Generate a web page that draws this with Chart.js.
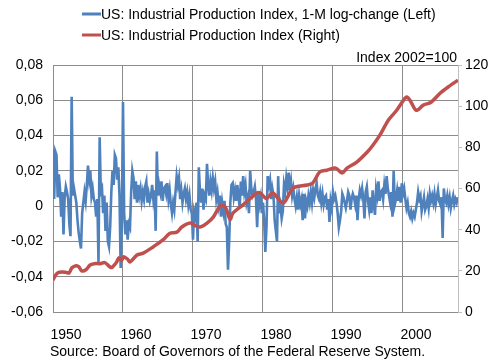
<!DOCTYPE html>
<html>
<head>
<meta charset="utf-8">
<script src="https://cdn.jsdelivr.net/npm/chart.js@4.4.1/dist/chart.umd.min.js"></script>
<style>
  html, body { margin: 0; padding: 0; background: #fff; }
  #wrap { width: 497px; height: 361px; }
</style>
</head>
<body>
<div id="wrap"><canvas id="ipChart" width="497" height="361"></canvas></div>
<script>
// Monthly log-change, sampled every second month (Jan, Mar, May, Jul, Sep, Nov)
const changeStartYear = 1950;
const changeStep = 1 / 6;
const logChange = [
  // 1950
  0.032, 0.004, 0.031, 0.029, 0.005, 0.018,
  // 1951
  0.010, -0.006, 0.008, -0.016, 0.005, 0.011,
  // 1952
  0.008, 0.004, -0.010, -0.017, 0.062, 0.006,
  // 1953
  0.010, 0.006, 0.002, -0.008, -0.015, -0.020,
  // 1954
  -0.024, -0.004, 0.002, 0.008, 0.003, 0.012,
  // 1955
  0.023, 0.015, 0.020, 0.006, 0.010, 0.004,
  // 1956
  0.002, -0.006, 0.004, -0.032, 0.039, 0.008,
  // 1957
  0.010, -0.004, 0.006, -0.014, 0.002, -0.020,
  // 1958
  -0.023, -0.012, 0.008, 0.020, 0.012, 0.029,
  // 1959
  0.027, 0.015, 0.022, 0.006, -0.035, -0.008,
  // 1960
  0.059, -0.004, -0.016, -0.008, -0.019, -0.010,
  // 1961
  -0.012, 0.008, 0.020, 0.016, 0.004, 0.014,
  // 1962
  0.002, 0.012, 0.006, 0.010, 0.003, 0.008,
  // 1963
  0.004, 0.011, 0.014, 0.002, 0.007, 0.003,
  // 1964
  0.006, 0.012, 0.004, 0.009, -0.014, 0.031,
  // 1965
  0.006, 0.012, 0.008, 0.014, 0.003, 0.010,
  // 1966
  0.011, 0.007, 0.013, 0.004, 0.009, 0.001,
  // 1967
  -0.004, 0.002, -0.002, 0.008, 0.017, 0.012,
  // 1968
  0.016, 0.004, 0.009, 0.002, 0.007, 0.010,
  // 1969
  0.004, 0.008, 0.001, 0.006, -0.002, -0.004,
  // 1970
  -0.019, -0.003, -0.006, 0.002, -0.020, 0.022,
  // 1971
  0.008, 0.002, 0.010, -0.002, 0.006, 0.004,
  // 1972
  0.024, 0.012, 0.006, 0.014, 0.009, 0.016,
  // 1973
  0.010, 0.014, 0.004, 0.008, 0.001, 0.006,
  // 1974
  -0.006, 0.002, -0.003, 0.003, -0.010, -0.012,
  // 1975
  -0.036, -0.020, 0.002, 0.012, 0.013, 0.005,
  // 1976
  0.009, 0.003, 0.012, 0.006, -0.001, 0.014,
  // 1977
  0.006, 0.017, 0.008, 0.012, 0.002, 0.005,
  // 1978
  -0.004, 0.020, 0.010, 0.006, 0.008, 0.011,
  // 1979
  0.004, -0.012, 0.008, 0.001, 0.005, -0.004,
  // 1980
  0.002, -0.008, -0.026, -0.012, 0.017, 0.012,
  // 1981
  0.015, 0.004, 0.010, 0.006, -0.008, -0.014,
  // 1982
  -0.020, 0.017, -0.004, 0.000, -0.007, -0.003,
  // 1983
  0.012, 0.008, 0.016, 0.011, 0.019, 0.009,
  // 1984
  0.014, 0.006, 0.010, 0.004, 0.000, 0.005,
  // 1985
  -0.002, 0.006, 0.001, 0.004, -0.008, 0.007,
  // 1986
  -0.007, 0.003, 0.000, 0.006, 0.002, 0.008,
  // 1987
  0.002, 0.009, 0.005, 0.010, 0.013, 0.006,
  // 1988
  0.004, 0.008, 0.002, 0.007, 0.001, 0.005,
  // 1989
  0.006, -0.002, 0.004, -0.009, 0.003, -0.001,
  // 1990
  0.008, 0.004, 0.006, 0.002, -0.004, -0.012,
  // 1991
  -0.008, -0.003, 0.007, 0.005, 0.002, -0.001,
  // 1992
  0.003, 0.008, 0.006, -0.002, 0.004, 0.007,
  // 1993
  0.005, 0.001, 0.006, -0.008, 0.004, 0.009,
  // 1994
  0.006, 0.010, 0.004, -0.007, 0.008, 0.011,
  // 1995
  0.003, -0.002, 0.005, -0.004, 0.009, 0.001,
  // 1996
  -0.005, 0.010, 0.006, 0.014, 0.003, 0.008,
  // 1997
  0.009, 0.004, 0.012, 0.007, 0.017, 0.010,
  // 1998
  0.006, 0.002, 0.008, -0.006, 0.020, 0.001,
  // 1999
  0.004, 0.009, 0.003, 0.011, 0.002, 0.013,
  // 2000
  0.007, 0.010, 0.004, -0.001, 0.002, -0.004,
  // 2001
  -0.006, -0.003, -0.007, -0.004, -0.006, -0.002,
  // 2002
  0.002, 0.008, 0.004, 0.006, -0.003, 0.001,
  // 2003
  0.005, -0.002, 0.000, 0.004, -0.001, 0.007,
  // 2004
  0.003, 0.006, 0.002, 0.007, 0.001, 0.005,
  // 2005
  0.009, 0.003, 0.001, 0.005, -0.018, 0.010,
  // 2006
  0.004, 0.002, 0.006, 0.001, 0.005, -0.001,
  // 2007
  0.003, 0.006, 0.001, 0.004, 0.002, 0.005
];

// Index level (2002=100), at irregular dates
const indexYears = [
  1950.0, 1950.3, 1950.7, 1951.3, 1951.9, 1952.3, 1952.7, 1953.3, 1953.7, 1954.1,
  1954.7, 1955.3, 1956.1, 1956.7, 1957.4, 1958.1, 1958.4, 1959.1, 1959.4, 1959.8,
  1960.1, 1960.7, 1961.0, 1962.0, 1962.9, 1964.3, 1965.7, 1966.7, 1967.7, 1968.4,
  1969.6, 1970.3, 1971.0, 1972.0, 1972.9, 1973.9, 1974.6, 1975.3, 1975.7, 1977.1,
  1978.4, 1979.1, 1979.6, 1980.3, 1980.6, 1981.4, 1982.9, 1984.3, 1986.3, 1987.1,
  1988.1, 1989.1, 1990.4, 1991.3, 1992.0, 1993.4, 1994.9, 1995.7, 1996.7, 1997.9,
  1999.1, 2000.3, 2000.6, 2001.0, 2001.9, 2002.9, 2004.0, 2005.3, 2006.4, 2007.85
];
const indexLevel = [
  15.5, 17.5, 19.1, 19.4, 19.2, 19.0, 21.5, 22.5, 22.0, 20.0,
  20.5, 22.8, 23.6, 23.4, 24.0, 22.0, 21.6, 24.3, 26.3, 25.0,
  26.8, 25.5, 24.3, 27.7, 28.6, 31.6, 35.0, 38.3, 38.8, 41.3,
  43.2, 42.0, 41.3, 43.2, 46.1, 51.5, 51.0, 45.0, 48.0, 51.9,
  55.8, 57.8, 57.8, 55.5, 55.3, 57.8, 52.9, 60.2, 61.7, 62.6,
  68.0, 68.9, 69.9, 67.5, 69.9, 72.8, 77.7, 81.0, 85.9, 93.2,
  98.0, 103.9, 104.4, 102.9, 98.0, 100.5, 101.9, 106.3, 109.2, 112.6
];

const decadeTicks = [1950, 1960, 1970, 1980, 1990, 2000];
const legendLabels = [
  'US: Industrial Production Index, 1-M log-change (Left)',
  'US: Industrial Production Index (Right)'
];
const unitNote = 'Index 2002=100';
const sourceNote = 'Source: Board of Governors of the Federal Reserve System.';

const BLUE = '#4F81BD';
const RED = '#C0504D';
const GRID = '#8c8c8c';
const FONT = 'Arial, "Liberation Sans", sans-serif';

const changePoints = logChange.map((v, i) => ({ x: changeStartYear + i * changeStep, y: v }));
const indexPoints = indexLevel.map((v, i) => ({ x: indexYears[i], y: v }));

// legend, unit note and source line are painted by hand
const annotations = {
  id: 'annotations',
  afterDraw(chart) {
    const ctx = chart.ctx;
    ctx.save();
    ctx.font = '14px ' + FONT;
    ctx.fillStyle = '#000';
    ctx.textBaseline = 'middle';
    ctx.textAlign = 'left';
    const rows = [[BLUE, 14], [RED, 35]];
    rows.forEach(([color, y], i) => {
      ctx.strokeStyle = color;
      ctx.lineWidth = 3;
      ctx.beginPath();
      ctx.moveTo(82, y);
      ctx.lineTo(101, y);
      ctx.stroke();
      ctx.fillText(legendLabels[i], 101, y + 1);
    });
    ctx.textAlign = 'right';
    ctx.fillText(unitNote, chart.chartArea.right - 1, 58);
    ctx.textAlign = 'left';
    ctx.fillText(sourceNote, 50, 352);
    ctx.restore();
  }
};

const fmtLeft = v => Math.abs(v) < 1e-9 ? '0' : v.toFixed(2).replace('.', ',');

new Chart(document.getElementById('ipChart'), {
  type: 'line',
  data: {
    datasets: [
      {
        label: legendLabels[0],
        data: changePoints,
        yAxisID: 'y',
        borderColor: BLUE,
        borderWidth: 2.6,
        pointRadius: 0,
        tension: 0,
        order: 2
      },
      {
        label: legendLabels[1],
        data: indexPoints,
        yAxisID: 'y2',
        borderColor: RED,
        borderWidth: 3.5,
        pointRadius: 0,
        tension: 0.3,
        order: 1
      }
    ]
  },
  options: {
    responsive: false,
    animation: false,
    layout: { padding: { top: 65, left: 0, right: 0, bottom: 0 } },
    plugins: {
      legend: { display: false },
      tooltip: { enabled: false }
    },
    scales: {
      x: {
        type: 'linear',
        min: 1950,
        max: 2007.86,
        afterBuildTicks: axis => { axis.ticks = decadeTicks.map(v => ({ value: v })); },
        afterFit: s => { s.height = 49; },
        grid: { color: GRID, drawTicks: false },
        border: { color: GRID },
        ticks: {
          color: '#000',
          font: { family: FONT, size: 14 },
          padding: 15,
          labelOffset: 13,
          maxRotation: 0,
          callback: v => String(v)
        }
      },
      y: {
        position: 'left',
        min: -0.06,
        max: 0.08,
        afterFit: s => { s.width = 53; },
        grid: { color: GRID, drawTicks: false },
        border: { color: GRID },
        ticks: {
          stepSize: 0.02,
          color: '#000',
          font: { family: FONT, size: 14 },
          padding: 10,
          callback: fmtLeft
        }
      },
      y2: {
        position: 'right',
        min: 0,
        max: 120,
        afterFit: s => { s.width = 39; },
        grid: { drawOnChartArea: false, color: '#bfbfbf', tickLength: 4 },
        border: { color: '#bfbfbf' },
        ticks: {
          stepSize: 20,
          color: '#000',
          font: { family: FONT, size: 14 },
          padding: 3
        }
      }
    }
  },
  plugins: [annotations]
});
</script>
</body>
</html>
